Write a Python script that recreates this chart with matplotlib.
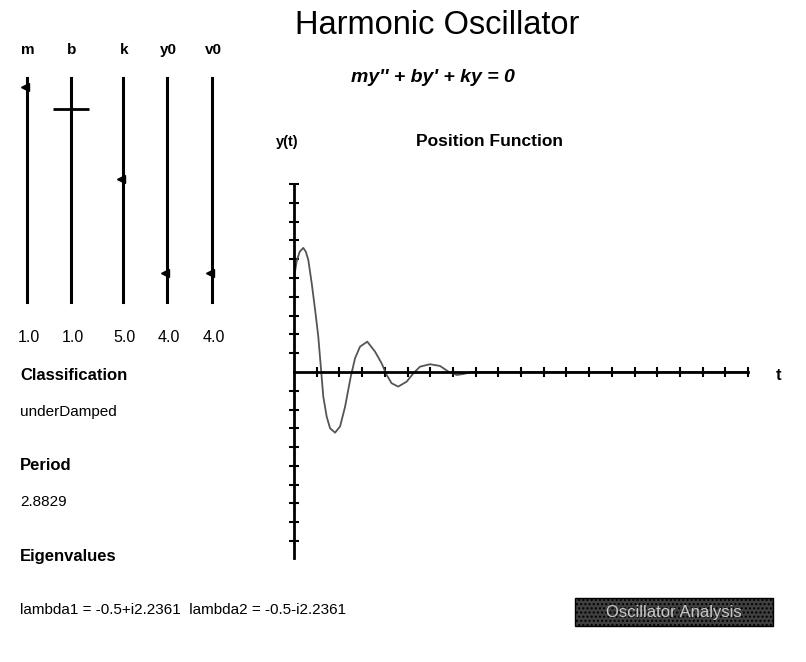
"""Harmonic oscillator applet screen, redrawn with matplotlib."""

import matplotlib
matplotlib.use("Agg")
import matplotlib.pyplot as plt
from matplotlib.patches import Rectangle

plt.rcParams['font.family'] = ['Liberation Sans', 'DejaVu Sans']

# slider panel
slider_names = ['m', 'b', 'k', 'y0', 'v0']
slider_values = [1.0, 1.0, 5.0, 4.0, 4.0]
slider_pos = [0.96, 0.86, 0.55, 0.13, 0.13]   # thumb height on the track

# results
classification = 'underDamped'
period = 2.8829
eig_re = -0.5
eig_im = 2.2361

# position function y(t)
t_vals = [0.0, 0.12, 0.25, 0.41, 0.52, 0.63, 0.78, 0.93, 1.07, 1.20, 1.29, 1.44,
          1.59, 1.81, 2.03, 2.25, 2.50, 2.69, 2.91, 3.23, 3.57, 3.86, 4.08, 4.30,
          4.59, 4.96, 5.26, 5.55, 5.99, 6.43, 6.80, 7.17, 7.46, 7.83, 9.0, 12.0,
          16.0, 20.0]
y_vals = [5.0, 5.9, 6.4, 6.6, 6.4, 5.96, 4.72, 3.3, 1.88, 0.0, -1.31, -2.38,
          -3.0, -3.23, -2.9, -1.85, -0.25, 0.73, 1.35, 1.61, 1.08, 0.46, -0.16, -0.60,
          -0.78, -0.52, -0.07, 0.28, 0.41, 0.32, 0.02, -0.16, -0.11, 0.0, 0.0, 0.0,
          0.0, 0.0]

W, H = 806, 662
fig = plt.figure(figsize=(W / 100, H / 100), dpi=100)
fig.patch.set_facecolor('white')

# screen layer in pixel coordinates for labels and sliders
ui = fig.add_axes([0, 0, 1, 1])
ui.set_xlim(0, W)
ui.set_ylim(H, 0)
ui.axis('off')

ui.text(437, 26, 'Harmonic Oscillator', fontsize=23.5, ha='center', va='center')
ui.text(433, 77, "my'' + by' + ky = 0", fontsize=14, fontweight='bold',
        fontstyle='italic', ha='center', va='center')
ui.text(287, 142, 'y(t)', fontsize=10.5, fontweight='bold', ha='center', va='center')
ui.text(490, 142, 'Position Function', fontsize=12.5, fontweight='bold',
        ha='center', va='center')
ui.text(779, 375, 't', fontsize=12, fontweight='bold', ha='center', va='center')

slider_x = [27, 71, 123, 167, 212]
track_top, track_bot = 78, 302
for x, name, val, pos in zip(slider_x, slider_names, slider_values, slider_pos):
    ui.plot([x, x], [track_top, track_bot], color='black', lw=2.2)
    ui.text(x + 1, 50, name, fontsize=11, fontweight='bold', ha='center', va='center')
    ui.text(x + 2, 337, f'{val:.1f}', fontsize=11.5, ha='center', va='center')
    thumb_y = track_bot - pos * (track_bot - track_top)
    if name == 'b':
        ui.plot(x, thumb_y, marker='_', markersize=26, mew=2, color='black')
    else:
        ui.plot(x - 2, thumb_y, marker='<', markersize=6, color='black')

ui.text(20, 375, 'Classification', fontsize=12, fontweight='bold', va='center')
ui.text(20, 412, classification, fontsize=11, va='center')
ui.text(20, 465, 'Period', fontsize=12, fontweight='bold', va='center')
ui.text(20, 502, f'{period:.4f}', fontsize=11, va='center')
ui.text(20, 557, 'Eigenvalues', fontsize=12, fontweight='bold', va='center')
ui.text(20, 610, f'lambda1 = {eig_re}+i{eig_im}  lambda2 = {eig_re}-i{eig_im}',
        fontsize=11, va='center')

ui.add_patch(Rectangle((575, 598), 198, 28, facecolor='#404040', edgecolor='black',
                       hatch='....', lw=1))
ui.text(674, 612, 'Oscillator Analysis', fontsize=12, color='#c8c8c8',
        ha='center', va='center')

# plot of y(t)
ax = fig.add_axes([294 / W, 1 - 558 / H, 454 / W, 374 / H])
ax.patch.set_alpha(0)
ax.plot(t_vals, y_vals, color='#555555', lw=1.3)
ax.set_xlim(0, 20)
ax.set_ylim(-9.9, 10)
ax.spines['left'].set_position(('data', 0))
ax.spines['bottom'].set_position(('data', 0))
ax.spines['right'].set_visible(False)
ax.spines['top'].set_visible(False)
ax.spines['left'].set_linewidth(2)
ax.spines['bottom'].set_linewidth(2)
ax.set_xticks(range(1, 21))
ax.set_yticks([v for v in range(-9, 11) if v != 0])
ax.tick_params(direction='inout', length=7, width=1.5, labelbottom=False,
               labelleft=False)

fig.savefig('out.png', dpi=100)
